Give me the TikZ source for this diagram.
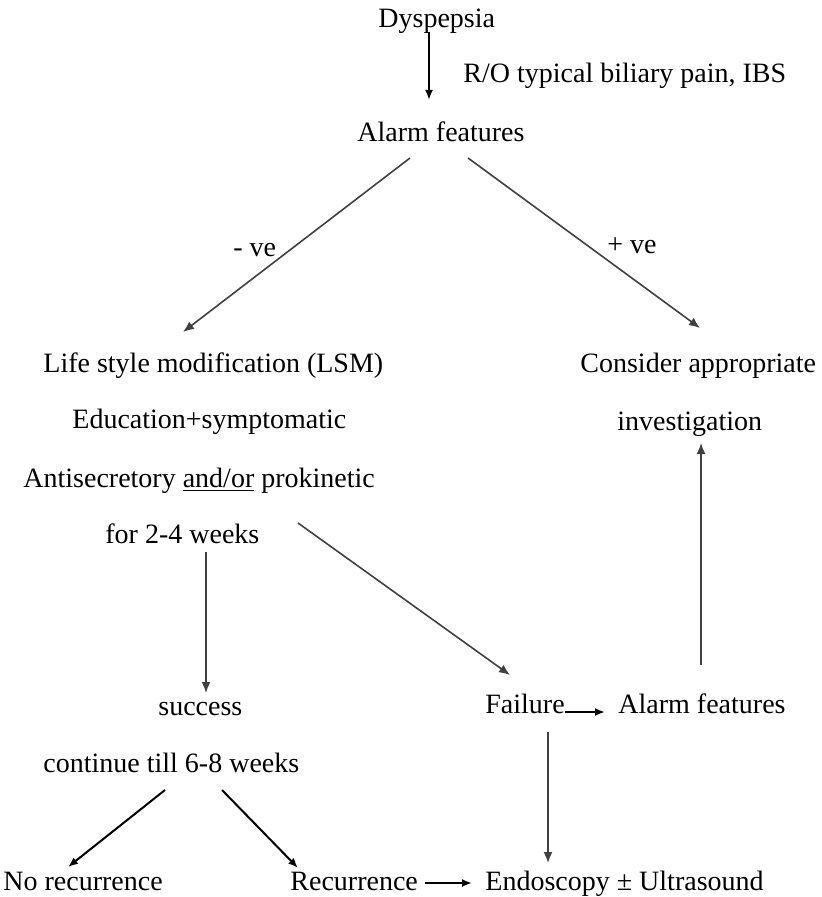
\documentclass[tikz,border=0pt]{standalone}
\usepackage{fontspec}
\setmainfont{Liberation Serif}
\usetikzlibrary{arrows.meta}
\usetikzlibrary{positioning}

\begin{document}
\begin{tikzpicture}[x=0.5pt,y=-0.5pt,
  txt/.style={anchor=base west,inner sep=0pt,font=\fontsize{14}{17}\selectfont},
  flow/.style={draw=black!75,line width=0.8pt,-{Latex[length=5.5pt,width=4.5pt]}},
  short/.style={draw=black,line width=1pt,-{Latex[length=5pt,width=4pt]}}]
  \useasboundingbox (0,0) rectangle (822,897);

  % top of the chart
  \node[txt] (dys) at (378,28) {Dyspepsia};
  \node[txt] (ro) at (463,83) {R/O typical biliary pain, IBS};
  \node[txt] (alarm) at (357,142) {Alarm features};
  \node[txt] (neg) at (233,257) {- ve};
  \node[txt] (pos) at (607,254) {+ ve};

  % left branch
  \node[txt] (lsm) at (43,372) {Life style modification (LSM)};
  \node[txt] (edu) at (72,428) {Education+symptomatic};
  \node[txt] (anti) at (23,487) {Antisecretory \underline{and/or} prokinetic};
  \node[txt] (weeks) at (105,543) {for 2-4 weeks};
  \node[txt] (succ) at (158,715) {success};
  \node[txt] (cont) at (43,772) {continue till 6-8 weeks};
  \node[txt] (norec) at (3,890) {No recurrence};
  \node[txt] (rec) at (290,890) {Recurrence};

  % right branch
  \node[txt] (cons) at (580,372) {Consider appropriate};
  \node[txt] (invest) at (617,430) {investigation};
  \node[txt] (fail) at (485,713) {Failure};
  \node[txt] (alarmb) at (618,713) {Alarm features};
  \node[txt] (endo) at (485,890) {Endoscopy ± Ultrasound};

  % connectors
  \draw[short] ([shift={(51,4)}]dys.base west) -- ([shift={(72,-42)}]alarm.base west);
  \draw[flow] ([shift={(53,16)}]alarm.base west) -- ([shift={(140,-40)}]lsm.base west);
  \draw[flow] ([shift={(111,16)}]alarm.base west) -- ([shift={(120,-44)}]cons.base west);
  \draw[flow] ([shift={(101,9)}]weeks.base west) -- ([shift={(48,-22)}]succ.base west);
  \draw[flow] ([shift={(193,-20)}]weeks.base west) -- ([shift={(25,-38)}]fail.base west);
  \draw[short] ([shift={(80,-1)}]fail.base west) -- ([shift={(-13,-1)}]alarmb.base west);
  \draw[flow] ([shift={(83,-48)}]alarmb.base west) -- ([shift={(84,13)}]invest.base west);
  \draw[flow] ([shift={(63,19)}]fail.base west) -- ([shift={(63,-27)}]endo.base west);
  \draw[short] ([shift={(122,18)}]cont.base west) -- ([shift={(65,-23)}]norec.base west);
  \draw[short] ([shift={(179,18)}]cont.base west) -- ([shift={(8,-22)}]rec.base west);
  \draw[short] ([shift={(135,-7)}]rec.base west) -- ([shift={(-13,-7)}]endo.base west);
\end{tikzpicture}
\end{document}
